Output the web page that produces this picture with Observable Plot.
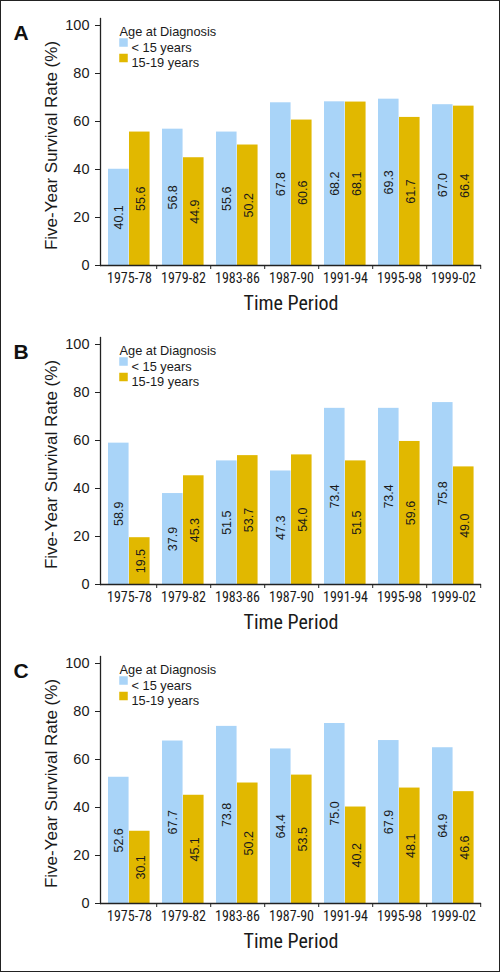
<!DOCTYPE html>
<html>
<head>
<meta charset="utf-8">
<script src="https://cdn.jsdelivr.net/npm/d3@7"></script>
<script src="https://cdn.jsdelivr.net/npm/@observablehq/plot@0.6"></script>
<style>
  html, body { margin: 0; padding: 0; background: #fff; }
  #wrap { position: relative; width: 500px; height: 972px; overflow: hidden; background: #fff; }
  #wrap svg { display: block; }
  #frame { position: absolute; left: 0; top: 0; width: 500px; height: 972px; box-sizing: border-box; border: 1.5px solid #222; pointer-events: none; }
</style>
</head>
<body>
<div id="wrap"><div id="frame"></div></div>
<script>
const periods = ["1975-78", "1979-82", "1983-86", "1987-90", "1991-94", "1995-98", "1999-02"];
const groups = ["< 15 years", "15-19 years"];
const legendTitle = "Age at Diagnosis";
const xLabel = "Time Period";
const yLabel = "Five-Year Survival Rate (%)";
const yTicks = [0, 20, 40, 60, 80, 100];
const panelLetters = ["A", "B", "C"];

const panelA_under15 = [40.1, 56.8, 55.6, 67.8, 68.2, 69.3, 67.0];
const panelA_15to19 = [55.6, 44.9, 50.2, 60.6, 68.1, 61.7, 66.4];
const panelB_under15 = [58.9, 37.9, 51.5, 47.3, 73.4, 73.4, 75.8];
const panelB_15to19 = [19.5, 45.3, 53.7, 54.0, 51.5, 59.6, 49.0];
const panelC_under15 = [52.6, 67.7, 73.8, 64.4, 75.0, 67.9, 64.9];
const panelC_15to19 = [30.1, 45.1, 50.2, 53.5, 40.2, 48.1, 46.6];

const colors = ["#a9d4f8", "#e1b800"];
const sans = "'Liberation Sans', Arial, Helvetica, sans-serif";
const narrow = "'Liberation Sans Narrow', 'Arial Narrow', 'Roboto Condensed', sans-serif";

const W = 500, H = 319;
const mL = 100, mR = 19, mT = 25, mB = 54;
const bw = (W - mL - mR) / periods.length;
const barW = 21;
const side = 6;

function panel(letter, under, older) {
  const series = [under, older];
  const rows = groups.map((g, gi) => periods.map((p, i) => ({period: p, group: g, value: series[gi][i]})));
  const marks = [];
  rows.forEach((data, gi) => {
    const insetLeft = gi === 0 ? side : side + barW;
    const insetRight = bw - insetLeft - barW;
    marks.push(Plot.barY(data, {x: "period", y: "value", fill: "group", insetLeft, insetRight}));
    marks.push(Plot.text(data, {
      x: "period", y: d => d.value / 2, text: d => d.value.toFixed(1),
      rotate: -90, dx: (gi === 0 ? -1 : 1) * (barW / 2 + 0.5), fontSize: 12.5, fontFamily: sans, fill: "#1a1a1a"
    }));
  });
  marks.push(Plot.ruleY([0], {stroke: "#222", strokeWidth: 1.3}));
  marks.push(Plot.frame({anchor: "left", stroke: "#222", strokeWidth: 1.3, insetTop: -7}));
  marks.push(Plot.axisY(yTicks, {tickSize: 5, tickPadding: 6, fontSize: 14.5, fontFamily: sans, label: null, stroke: "#222", fill: "#1a1a1a"}));
  marks.push(Plot.axisX({tickSize: 4, text: null, dx: bw / 2, label: null, stroke: "#222"}));
  marks.push(Plot.axisX({tickSize: 0, tickPadding: 8, fontSize: 14, fontFamily: narrow, label: null, fill: "#1a1a1a"}));
  marks.push(Plot.text([xLabel], {frameAnchor: "bottom", dy: 44.5, fontSize: 20, fontFamily: narrow, fill: "#1a1a1a"}));
  marks.push(Plot.text([yLabel], {frameAnchor: "left", textAnchor: "middle", rotate: -90, dx: -48.5, fontSize: 17, fontFamily: sans, fill: "#1a1a1a"}));
  marks.push(Plot.text([letter], {frameAnchor: "top-left", textAnchor: "start", dx: -87, dy: -0.5, fontSize: 21, fontWeight: "bold", fontFamily: sans, fill: "#111"}));
  marks.push(Plot.text([legendTitle], {frameAnchor: "top-left", textAnchor: "start", dx: 19, dy: 1, fontSize: 12.8, fontFamily: sans, fill: "#1a1a1a"}));
  groups.forEach((g, gi) => {
    marks.push(Plot.dot([g], {frameAnchor: "top-left", fill: d => d, symbol: "square", r: 4.8, dx: 23, dy: 17 + 15.5 * gi}));
    marks.push(Plot.text([g], {frameAnchor: "top-left", textAnchor: "start", dx: 31, dy: 17 + 15.5 * gi, fontSize: 12.8, fontFamily: sans, fill: "#1a1a1a"}));
  });
  return Plot.plot({
    width: W, height: H,
    marginLeft: mL, marginRight: mR, marginTop: mT, marginBottom: mB,
    style: {background: "#fff", fontFamily: sans},
    x: {domain: periods, padding: 0, axis: null},
    y: {domain: [0, 100], axis: null},
    color: {domain: groups, range: colors},
    marks
  });
}

const wrap = document.getElementById("wrap");
const frame = document.getElementById("frame");
const panelsData = [[panelA_under15, panelA_15to19], [panelB_under15, panelB_15to19], [panelC_under15, panelC_15to19]];
panelsData.forEach(([u, o], i) => {
  wrap.insertBefore(panel(panelLetters[i], u, o), frame);
});
</script>
</body>
</html>
